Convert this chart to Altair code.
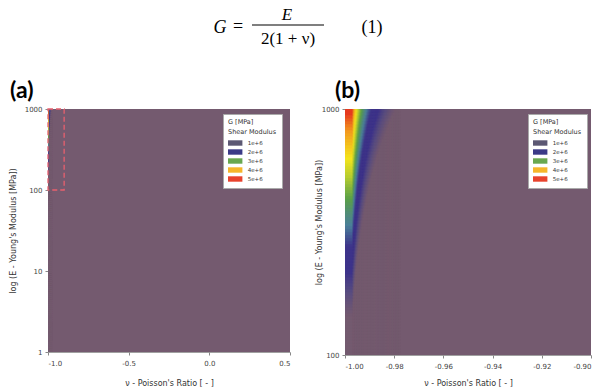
import numpy as np
import pandas as pd
import altair as alt

# Equation (1): G = E / (2 (1 + nu))  -- shear modulus map
# ---------------- grids ----------------
# panel (a): nu in [-1, 0.5] (columns next to nu=-1 only; rest is the base colour), E in [1, 1000]
nu_a_edges = [-1.0, -0.99375, -0.9875, -0.98125, -0.975]
E_a_edges = list(np.logspace(0, 3, 121))
# panel (b): nu samples near -1 (grid starts at -0.997), E in [100, 1000]
nu_b_samples = [round(-0.997 + 0.0004 * i, 4) for i in range(49)]
E_b_edges = list(np.logspace(2, 3, 83))

# colour stops of the G map (MPa)
G_stops = [24000, 30000, 36000, 46000, 56000, 72000, 88000, 105000, 135000, 160000]
G_colors = ["#745a6f", "#584c80", "#3d338a", "#3d338a", "#4a7f9a", "#5aa048",
            "#b5cc30", "#f4e41c", "#f39a1e", "#e5391f"]
BASE = "#745a6f"

legend_labels = ["1e+6", "2e+6", "3e+6", "4e+6", "5e+6"]
legend_colors = ["#5c5873", "#3b3a87", "#69a84f", "#f6b62a", "#e8432d"]
legend_title = ["G [MPa]", "Shear Modulus"]

a_x_ticks = [-1.0, -0.5, 0.0, 0.5]
a_y_ticks = [1, 10, 100, 1000]
b_x_ticks = [-1.0, -0.98, -0.96, -0.94, -0.92, -0.90]
b_y_ticks = [100, 1000]

zoom_nu = [-1.0, -0.9]
zoom_E = [100, 1000]

formula_parts = ["G", "=", "E", "2(1 + ν)", "(1)"]
panel_labels = ["(a)", "(b)"]

X_TITLE = "ν - Poisson's Ratio [ - ]"
Y_TITLE = "log (E - Young's Modulus [MPa])"
F = "DejaVu Sans"


def cells(nu_lo, nu_hi, nu_mid, E_edges):
    rows = []
    for i in range(len(E_edges) - 1):
        e0, e1 = E_edges[i], E_edges[i + 1]
        em = (e0 * e1) ** 0.5
        for a, b, m in zip(nu_lo, nu_hi, nu_mid):
            rows.append((a, b, e0, e1, em / (2 * (1 + m))))
    return pd.DataFrame(rows, columns=["nu_lo", "nu_hi", "E_lo", "E_hi", "G"])


df_a = cells(nu_a_edges[:-1], nu_a_edges[1:],
             [(p + q) / 2 for p, q in zip(nu_a_edges[:-1], nu_a_edges[1:])], E_a_edges)
b_lo = [-1.0] + [s - 0.0002 for s in nu_b_samples[1:]]
b_hi = [s + 0.0002 for s in nu_b_samples]
df_b = cells(b_lo, b_hi, nu_b_samples, E_b_edges)

MINUS = "replace(datum.label, '\u2212', '-')"


def x_axis(vals, fmt, ty):
    return alt.Axis(values=vals, format=fmt, labelExpr=MINUS, title=X_TITLE, grid=False,
                    tickSize=3, tickColor="#888", domainColor="#888", domainWidth=0.8,
                    labelFont=F, labelFontSize=7, labelColor="#444", labelPadding=4,
                    titleFont=F, titleFontSize=8, titleFontWeight="normal", titleColor="#333",
                    titleY=ty, titleBaseline="middle")


def y_axis(vals, tx, ty):
    return alt.Axis(values=vals, format="d", title=Y_TITLE, grid=False,
                    tickSize=3, tickColor="#888", domainColor="#888", domainWidth=0.8,
                    labelFont=F, labelFontSize=7, labelColor="#444", labelPadding=3,
                    titleFont=F, titleFontSize=8, titleFontWeight="normal", titleColor="#333",
                    titleX=tx, titleY=ty, titleAngle=-90, titleAlign="center", titleBaseline="middle")


def heat(df, xdom, ydom, xax, yax):
    sc = alt.Scale(domain=G_stops, range=G_colors, clamp=True, interpolate="rgb")
    sc2 = alt.Scale(domain=G_stops, range=G_colors, clamp=True, interpolate="rgb")
    return alt.Chart(df).mark_rect(strokeWidth=0.6, clip=True).encode(
        x=alt.X("nu_lo:Q", scale=alt.Scale(domain=xdom, nice=False, zero=False), axis=xax),
        x2="nu_hi:Q",
        y=alt.Y("E_lo:Q", scale=alt.Scale(type="log", domain=ydom, nice=False), axis=yax),
        y2="E_hi:Q",
        color=alt.Color("G:Q", scale=sc, legend=None),
        stroke=alt.Stroke("G:Q", scale=sc2, legend=None),
    )


leg_df = pd.DataFrame({"label": legend_labels})


def legend_layer(lx, ly):
    return alt.Chart(leg_df).mark_square(opacity=0, size=1).encode(
        x=alt.value(0), y=alt.value(0),
        color=alt.Color("label:N", scale=alt.Scale(domain=legend_labels, range=legend_colors),
                        legend=alt.Legend(title=legend_title, orient="none", legendX=lx, legendY=ly,
                                          fillColor="white", strokeColor="#aaa", padding=5,
                                          cornerRadius=0, titleFont=F, titleFontSize=6.5,
                                          titleFontWeight="normal", titleColor="#333",
                                          titleLineHeight=10, titlePadding=3,
                                          labelFont=F, labelFontSize=5.5, labelColor="#333",
                                          symbolType="M-1.6,-0.6H1.6V0.6H-1.6Z", symbolSize=81,
                                          symbolOpacity=1, symbolStrokeWidth=0,
                                          symbolOffset=2.7, labelOffset=8, rowPadding=1)))


def text_mark(txt, x, y, size, style="normal", font="Liberation Serif", weight="normal", align="center"):
    return alt.Chart(pd.DataFrame({"t": [txt]})).mark_text(
        font=font, fontSize=size, fontStyle=style, fontWeight=weight, align=align,
        baseline="middle", color="black").encode(
        x=alt.value(x), y=alt.value(y), text="t:N")


# ---------- panel (a) ----------
WA, HA = 242, 243
heat_a = heat(df_a, [-1.0, 0.5], [1, 1000],
              x_axis(a_x_ticks, ".1f", 31), y_axis(a_y_ticks, -35, HA / 2))
box = alt.Chart(pd.DataFrame({"nu_lo": [zoom_nu[0]], "nu_hi": [zoom_nu[1]],
                              "E_lo": [zoom_E[0]], "E_hi": [zoom_E[1]]})).mark_rect(
    filled=False, stroke="#e8606e", strokeWidth=1.3, strokeDash=[5, 3]).encode(
    x="nu_lo:Q", x2="nu_hi:Q", y="E_lo:Q", y2="E_hi:Q")

rule = alt.Chart(pd.DataFrame({"t": [0]})).mark_rule(color="black", strokeWidth=1.1).encode(
    x=alt.value(204), x2=alt.value(276), y=alt.value(-84))

panel_a = alt.layer(
    heat_a, box, legend_layer(175, 5),
    text_mark(formula_parts[0], 172, -81, 18, "italic"),
    text_mark(formula_parts[1], 190, -82, 18),
    text_mark(formula_parts[2], 239, -94, 17, "italic"),
    rule,
    text_mark(formula_parts[3], 240, -70, 17),
    text_mark(formula_parts[4], 324, -81, 18),
    text_mark(panel_labels[0], -38, -18, 23, font="Lato", weight="bold", align="left"),
).resolve_scale(color="independent", stroke="independent").properties(width=WA, height=HA)

# ---------- panel (b) ----------
WB, HB = 246, 246
heat_b = heat(df_b, [-1.0, -0.9], [100, 1000],
              x_axis(b_x_ticks, ".2f", 28), y_axis(b_y_ticks, -26, 113))
panel_b = alt.layer(
    heat_b, legend_layer(183, 5),
    text_mark(panel_labels[1], -10, -18, 23, font="Lato", weight="bold", align="left"),
).resolve_scale(color="independent", stroke="independent").properties(width=WB, height=HB)

chart = alt.hconcat(panel_a, panel_b, spacing=55, bounds="flush").properties(
    padding={"left": 9, "top": 6, "right": 4, "bottom": 4}
).configure_view(fill=BASE, stroke=None)

chart.save("out.html", embed_options={"renderer": "svg", "actions": False})
